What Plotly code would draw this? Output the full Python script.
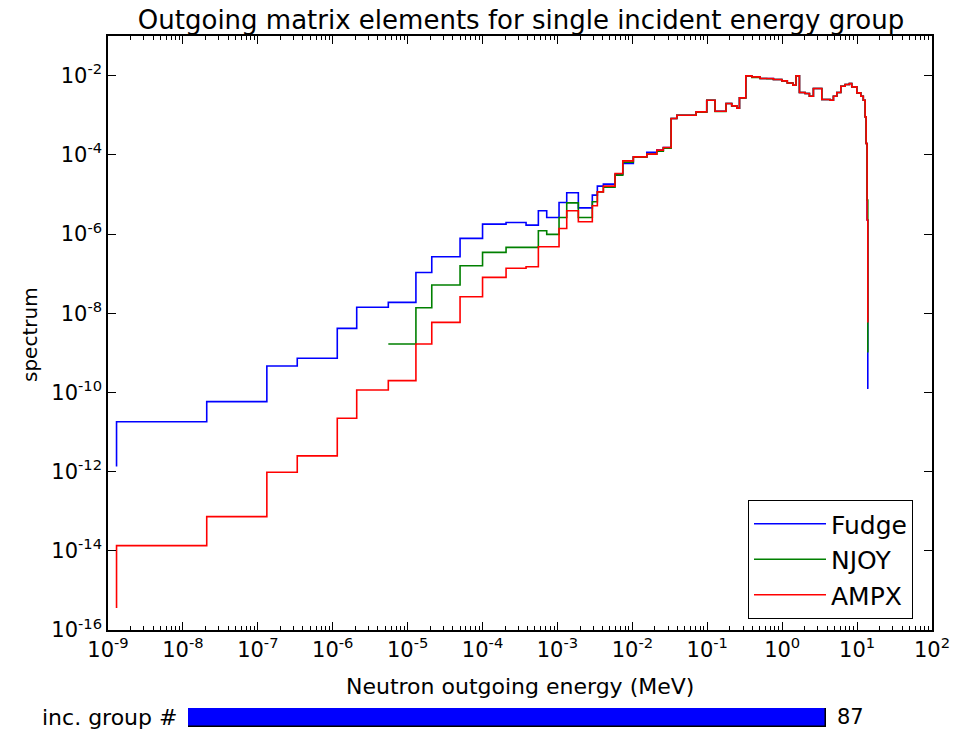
import plotly.graph_objects as go

# ---------------- data ----------------
energy_mev = [1.3e-9, 2.08e-8, 1.32e-7, 3.36e-7, 1.15e-6, 2.09e-6, 5.52e-6, 1.29e-5,
              2.10e-5, 5.01e-5, 1.0e-4, 2.06e-4, 3.81e-4, 5.56e-4, 7.19e-4, 1.05e-3,
              1.33e-3, 1.90e-3, 2.92e-3, 3.41e-3, 4.10e-3, 5.87e-3, 7.45e-3, 1.03e-2,
              1.56e-2, 2.12e-2, 2.59e-2, 3.29e-2, 3.92e-2, 7.08e-2, 9.84e-2, 0.127,
              0.178, 0.212, 0.248, 0.269, 0.327, 0.393, 0.507, 0.622, 0.764, 0.989,
              1.17, 1.39, 1.53, 1.70, 2.02, 2.31, 2.61, 3.38, 4.36, 4.83, 5.36, 6.06,
              6.92, 7.89, 8.49, 9.91, 11.2, 12.1, 12.8, 13.2, 13.6, 13.9, 14.2]

fudge = [1.34e-12, 1.82e-11, 5.84e-11, 4.65e-10, 7.26e-10, 4.15e-9, 1.41e-8, 1.88e-8,
         1.07e-7, 2.66e-7, 7.74e-7, 1.78e-6, 1.96e-6, 1.68e-6, 3.85e-6, 2.62e-6,
         6.26e-6, 1.10e-5, 4.58e-6, 9.60e-6, 1.62e-5, 1.82e-5, 3.24e-5, 6.05e-5,
         8.87e-5, 1.15e-4, 1.31e-4, 1.53e-4, 8.26e-4, 1.00e-3, 1.21e-3, 2.39e-3,
         1.26e-3, 1.98e-3, 1.72e-3, 1.50e-3, 2.74e-3, 9.82e-3, 9.27e-3, 8.44e-3,
         8.44e-3, 7.96e-3, 7.35e-3, 6.53e-3, 5.71e-3, 9.82e-3, 3.74e-3, 3.53e-3,
         3.02e-3, 4.72e-3, 2.49e-3, 2.39e-3, 3.02e-3, 3.74e-3, 5.40e-3, 5.96e-3,
         6.31e-3, 5.18e-3, 3.66e-3, 3.02e-3, 2.39e-3, 9.06e-4, 1.93e-4, 2.25e-6,
         1.27e-10]

njoy = [None, None, None, None, None, None, 1.67e-9, 1.67e-9,
        1.37e-8, 5.14e-8, 1.58e-7, 3.44e-7, 4.59e-7, 4.59e-7, 1.21e-6, 9.77e-7,
        2.62e-6, 6.12e-6, 2.62e-6, 6.50e-6, 1.16e-5, 1.53e-5, 3.06e-5, 6.52e-5,
        8.70e-5, 1.04e-4, 1.24e-4, 1.47e-4, 8.26e-4, 1.00e-3, 1.19e-3, 2.39e-3,
        1.24e-3, 1.98e-3, 1.72e-3, 1.50e-3, 2.74e-3, 9.82e-3, 9.00e-3, 8.44e-3,
        8.30e-3, 7.96e-3, 7.35e-3, 6.53e-3, 5.71e-3, 9.82e-3, 3.74e-3, 3.53e-3,
        3.02e-3, 4.72e-3, 2.49e-3, 2.39e-3, 3.02e-3, 3.74e-3, 5.40e-3, 5.96e-3,
        6.31e-3, 5.18e-3, 3.66e-3, 3.02e-3, 2.39e-3, 9.06e-4, 1.93e-4, 7.16e-6,
        1.07e-9]

ampx = [3.57e-16, 1.35e-14, 7.31e-14, 9.64e-13, 2.49e-12, 2.22e-11, 1.15e-10, 1.98e-10,
        1.67e-9, 5.87e-9, 2.60e-8, 8.04e-8, 1.36e-7, 1.49e-7, 4.75e-7, 4.75e-7,
        1.38e-6, 3.85e-6, 2.03e-6, 5.15e-6, 1.16e-5, 1.62e-5, 3.38e-5, 7.03e-5,
        8.87e-5, 1.04e-4, 1.31e-4, 1.53e-4, 8.26e-4, 1.00e-3, 1.21e-3, 2.39e-3,
        1.26e-3, 1.98e-3, 1.72e-3, 1.50e-3, 2.74e-3, 9.82e-3, 9.27e-3, 8.44e-3,
        8.44e-3, 7.96e-3, 7.35e-3, 6.53e-3, 5.71e-3, 9.82e-3, 3.74e-3, 3.53e-3,
        3.02e-3, 4.72e-3, 2.49e-3, 2.39e-3, 3.02e-3, 3.74e-3, 5.40e-3, 5.96e-3,
        6.31e-3, 5.18e-3, 3.66e-3, 3.02e-3, 2.39e-3, 9.06e-4, 1.93e-4, 2.25e-6,
        6.10e-9]

series_names = ["Fudge", "NJOY", "AMPX"]
series_colors = ["#0000ff", "#008000", "#ff0000"]

x_tick_exponents = list(range(-9, 3))
y_tick_exponents = list(range(-16, -1, 2))

group_min = 0
group_value = 87

# ---------------- figure ----------------
W, H = 965, 729
FONT = "DejaVu Sans"

fig = go.Figure()
for name, vals, color in zip(series_names, [fudge, njoy, ampx], series_colors):
    fig.add_trace(go.Scatter(
        x=energy_mev, y=vals, mode="lines", name=name,
        line=dict(color=color, width=1.6, shape="vh"),
        connectgaps=False, xaxis="x", yaxis="y"))

# slider-like bar for incident group number
fig.add_trace(go.Bar(
    x=[group_value - group_min], y=[0], base=[group_min], orientation="h",
    width=[1.0], marker=dict(color="#0000ff", line=dict(color="black", width=1.5)),
    showlegend=False, xaxis="x2", yaxis="y2", hoverinfo="skip", cliponaxis=False))

# domains (plot region spans full figure: margins set to 0 except top)
top_m = 36
ph = H - top_m
def py(p):
    return (H - p) / ph

minor_vals = [k * 10.0 ** d for d in range(-9, 2) for k in range(2, 10)]

fig.update_layout(
    width=W, height=H,
    margin=dict(l=0, r=0, t=top_m, b=0),
    paper_bgcolor="white", plot_bgcolor="white",
    font=dict(family=FONT, size=21, color="black"),
    title=dict(text="Outgoing matrix elements for single incident energy group",
               x=521 / W, xref="paper", xanchor="center",
               y=1 - 20 / H, yref="container", yanchor="middle",
               font=dict(family=FONT, size=26, color="black")),
    xaxis=dict(type="log", range=[-9, 2], domain=[108 / W, 932 / W],
               anchor="y", showgrid=False, zeroline=False,
               showline=True, linecolor="black", linewidth=1.5, mirror="allticks",
               ticks="inside", ticklen=8, tickwidth=1, tickcolor="black",
               tickmode="array", tickvals=[10.0 ** e for e in x_tick_exponents],
               ticktext=["10<sup>%d</sup>" % e for e in x_tick_exponents],
               tickfont=dict(size=21), automargin=False,
               minor=dict(tickmode="array", tickvals=minor_vals, ticks="inside",
                          ticklen=4, tickwidth=1, tickcolor="black", showgrid=False)),
    yaxis=dict(type="log", range=[-16, -1], domain=[py(630), py(36)],
               anchor="x", showgrid=False, zeroline=False,
               showline=True, linecolor="black", linewidth=1.5, mirror="allticks",
               ticks="inside", ticklen=8, tickwidth=1, tickcolor="black",
               tickmode="array", tickvals=[10.0 ** e for e in y_tick_exponents],
               ticktext=["10<sup>%d</sup>" % e for e in y_tick_exponents],
               tickfont=dict(size=21), automargin=False),
    xaxis2=dict(domain=[188 / W, 826 / W], range=[group_min, group_value],
                anchor="y2", showgrid=False, zeroline=False, showticklabels=False,
                ticks="", showline=False, fixedrange=True),
    yaxis2=dict(domain=[py(727), py(708)], range=[-0.5, 0.5], anchor="x2",
                showgrid=False, zeroline=False, showticklabels=False, ticks="",
                showline=False, fixedrange=True),
    legend=dict(x=748 / W, y=py(500), xanchor="left", yanchor="top",
                bordercolor="black", borderwidth=1, bgcolor="white",
                font=dict(family=FONT, size=25, color="black"),
                itemwidth=72, tracegroupgap=0),
    showlegend=True,
    bargap=0,
)

fig.add_annotation(text="Neutron outgoing energy (MeV)", xref="paper", yref="paper",
                   x=520 / W, y=py(686), xanchor="center", yanchor="middle",
                   showarrow=False, font=dict(family=FONT, size=22, color="black"))
fig.add_annotation(text="spectrum", xref="paper", yref="paper",
                   x=30 / W, y=py(335), xanchor="center", yanchor="middle",
                   textangle=-90, showarrow=False,
                   font=dict(family=FONT, size=20, color="black"))
fig.add_annotation(text="inc. group #", xref="paper", yref="paper",
                   x=179 / W, y=py(717), xanchor="right", yanchor="middle",
                   showarrow=False, font=dict(family=FONT, size=22, color="black"))
fig.add_annotation(text=str(group_value), xref="paper", yref="paper",
                   x=835 / W, y=py(717), xanchor="left", yanchor="middle",
                   showarrow=False, font=dict(family=FONT, size=21, color="black"))

fig.write_html("out.html")
